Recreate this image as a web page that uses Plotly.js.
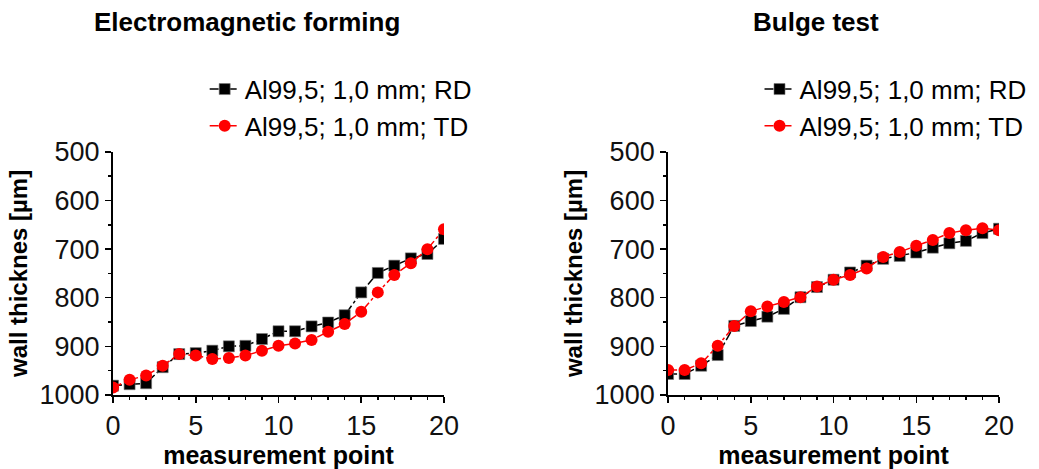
<!DOCTYPE html>
<html>
<head>
<meta charset="utf-8">
<script src="https://cdn.plot.ly/plotly-3.0.1.min.js"></script>
<style>html,body{margin:0;padding:0;background:#fff}#chart{width:1039px;height:469px}</style>
</head>
<body>
<div id="chart"></div>
<script>
const points = [0,1,2,3,4,5,6,7,8,9,10,11,12,13,14,15,16,17,18,19,20];
const emfRD = [981,978,976,943,916,914,909,900,899,885,869,869,859,851,836,789,749,734,719,710,679];
const emfTD = [985,969,960,940,916,919,926,924,919,909,899,894,887,870,854,829,789,753,729,700,659];
const bulgeRD = [957,957,940,918,858,848,839,823,799,778,763,748,734,720,714,707,697,688,683,667,658];
const bulgeTD = [949,949,935,899,858,828,818,809,799,777,763,753,740,716,706,693,681,667,661,657,661];
const seriesNames = ['Al99,5; 1,0 mm; RD', 'Al99,5; 1,0 mm; TD'];
const panelTitles = ['Electromagnetic forming', 'Bulge test'];
const xTitle = 'measurement point';
const yTitle = 'wall thicknes [µm]';

const FONT = 'Liberation Sans, Arial, sans-serif';
const rdStyle = {color:'#000000', marker:{symbol:'square', size:11, color:'#000', line:{color:'#777', width:0.6}}};
const tdStyle = {color:'#ff0000', marker:{symbol:'circle', size:12, color:'#ff0000', line:{width:0}}};

function tr(y, name, st, xa, ya, lg) {
  return {x: points, y: y, name: name, type:'scatter', mode:'lines+markers',
    xaxis: xa, yaxis: ya, legend: lg,
    line:{color: st.color, width:1.5, dash:'dashdot'}, marker: st.marker};
}
const data = [
  tr(emfRD, seriesNames[0], rdStyle, 'x', 'y', 'legend'),
  tr(emfTD, seriesNames[1], tdStyle, 'x', 'y', 'legend'),
  tr(bulgeRD, seriesNames[0], rdStyle, 'x2', 'y2', 'legend2'),
  tr(bulgeTD, seriesNames[1], tdStyle, 'x2', 'y2', 'legend2')
];

function xax(dom, anchor) {
  return {domain: dom, anchor: anchor, range:[0,20], tickvals:[0,5,10,15,20],
    showline:true, linecolor:'#000', linewidth:2, mirror:false, zeroline:false, showgrid:false,
    ticks:'outside', ticklen:6, tickwidth:1.5, tickcolor:'#000',
    minor:{dtick:1, tick0:0, ticks:'outside', ticklen:3, tickwidth:1.5, tickcolor:'#000', showgrid:false},
    tickfont:{family:FONT, size:27, color:'#111'},
    title:{text:'<b>'+xTitle+'</b>', font:{family:FONT, size:25, color:'#000'}, standoff:3},
    fixedrange:true};
}
function yax(dom, anchor) {
  return {domain: dom, anchor: anchor, range:[1000,500], tickvals:[500,600,700,800,900,1000],
    showline:true, linecolor:'#000', linewidth:2, zeroline:false, showgrid:false,
    ticks:'outside', ticklen:6, tickwidth:1.5, tickcolor:'#000',
    minor:{dtick:50, tick0:0, ticks:'outside', ticklen:3, tickwidth:1.5, tickcolor:'#000', showgrid:false},
    tickfont:{family:FONT, size:27, color:'#111'},
    title:{text:'<b>'+yTitle+'</b>', font:{family:FONT, size:24, color:'#000'}, standoff:5},
    fixedrange:true};
}
const yDom = [0.158, 0.676];
const layout = {
  width:1039, height:469, margin:{l:0,r:0,t:0,b:0},
  paper_bgcolor:'#fff', plot_bgcolor:'rgba(0,0,0,0)',
  font:{family:FONT},
  xaxis: xax([0.1088,0.4273],'y'),
  yaxis: yax(yDom,'x'),
  xaxis2: xax([0.643,0.9615],'y2'),
  yaxis2: yax(yDom,'x2'),
  legend:{x:0.197, y:0.86, xanchor:'left', yanchor:'top', bgcolor:'rgba(0,0,0,0)',
    font:{family:FONT, size:26, color:'#000'}, tracegroupgap:0, itemwidth:30},
  legend2:{x:0.731, y:0.86, xanchor:'left', yanchor:'top', bgcolor:'rgba(0,0,0,0)',
    font:{family:FONT, size:26, color:'#000'}, tracegroupgap:0, itemwidth:30},
  annotations:[
    {text:'<b>'+panelTitles[0]+'</b>', xref:'paper', yref:'paper', x:247/1039, y:1-22/469,
     showarrow:false, font:{family:FONT, size:26, color:'#000'}, xanchor:'center', yanchor:'middle'},
    {text:'<b>'+panelTitles[1]+'</b>', xref:'paper', yref:'paper', x:816/1039, y:1-22/469,
     showarrow:false, font:{family:FONT, size:26, color:'#000'}, xanchor:'center', yanchor:'middle'}
  ],
  showlegend:true
};
Plotly.newPlot('chart', data, layout, {displayModeBar:false, staticPlot:true});
</script>
</body>
</html>
